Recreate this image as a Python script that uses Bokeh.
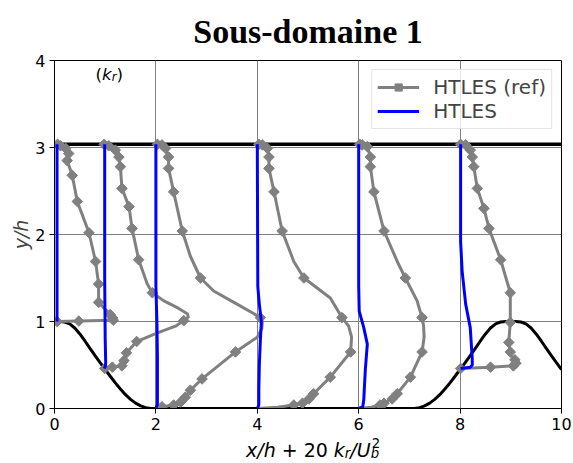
import numpy as np
from bokeh.plotting import figure
from bokeh.layouts import column
from bokeh.models import Label, Legend, LegendItem, Range1d
from bokeh.embed import file_html
from bokeh.resources import INLINE

# ---------------- data ----------------
hill_x = [0.0, 0.1, 0.2, 0.3, 0.4, 0.5, 0.6, 0.7, 0.8, 0.9, 1.0, 1.1, 1.2, 1.3, 1.4, 1.5, 1.6, 1.7, 1.8, 1.9, 1.929,
          7.071, 7.1, 7.2, 7.3, 7.4, 7.5, 7.6, 7.7, 7.8, 7.9, 8.0, 8.1, 8.2, 8.3, 8.4, 8.5, 8.6, 8.7, 8.8, 8.9, 9.0,
          9.1, 9.2, 9.3, 9.4, 9.5, 9.6, 9.7, 9.8, 9.9, 10.0]
hill_y = [1.0, 1.0, 0.994, 0.972, 0.925, 0.857, 0.776, 0.691, 0.607, 0.527, 0.448, 0.371, 0.295, 0.224, 0.159, 0.105, 0.062, 0.030, 0.010, 0.0005, 0.0,
          0.0, 0.0005, 0.010, 0.030, 0.062, 0.105, 0.159, 0.224, 0.295, 0.371, 0.448, 0.527, 0.607, 0.691, 0.776, 0.857, 0.925, 0.972, 0.994, 1.0, 1.0,
          1.0, 0.994, 0.972, 0.925, 0.857, 0.776, 0.691, 0.607, 0.527, 0.448]
top_x = [0.0, 10.0]
top_y = [3.036, 3.036]

x_ticks = [0, 2, 4, 6, 8, 10]
y_ticks = [0, 1, 2, 3, 4]

# HTLES (ref): y/h and x/h + 20 k_r/U_b^2 ; mark = 1 where a marker is drawn
ref005_y = [1.0, 1.005, 1.015, 1.04, 1.08, 1.22, 1.43, 1.69, 2.02, 2.38, 2.68, 2.85, 2.93, 2.99, 3.02, 3.036]
ref005_v = [0.05, 0.48, 1.16, 1.15, 1.10, 0.87, 0.87, 0.81, 0.68, 0.45, 0.35, 0.25, 0.28, 0.22, 0.12, 0.06]
ref005_m = [1, 1, 1, 1, 1, 1, 1, 1, 1, 1, 1, 1, 1, 1, 1, 1]

ref1_y = [0.46, 0.475, 0.49, 0.55, 0.64, 0.77, 0.87, 0.95, 1.01, 1.05, 1.09, 1.15, 1.24, 1.33, 1.43, 1.71, 2.07, 2.32, 2.53, 2.78, 2.89, 2.97, 3.02, 3.036]
ref1_v = [0.99, 1.14, 1.33, 1.37, 1.42, 1.62, 2.03, 2.40, 2.55, 2.64, 2.62, 2.45, 2.15, 1.93, 1.83, 1.66, 1.53, 1.47, 1.33, 1.30, 1.27, 1.20, 1.07, 0.98]
ref1_m = [1, 1, 1, 1, 1, 1, 0, 0, 1, 0, 0, 0, 0, 1, 0, 1, 1, 1, 1, 1, 1, 1, 1, 1]

ref2_y = [0.0, 0.02, 0.04, 0.075, 0.13, 0.21, 0.34, 0.65, 0.82, 0.92, 1.0, 1.045, 1.1, 1.2, 1.35, 1.5, 1.75, 2.04, 2.49, 2.76, 2.89, 2.99, 3.03, 3.036]
ref2_v = [2.0, 2.12, 2.35, 2.49, 2.58, 2.68, 2.91, 3.57, 4.0, 4.09, 4.1, 4.06, 3.9, 3.6, 3.14, 2.88, 2.68, 2.52, 2.35, 2.25, 2.25, 2.19, 2.12, 2.03]
ref2_m = [0, 1, 1, 1, 1, 1, 1, 1, 0, 0, 0, 1, 0, 0, 0, 1, 0, 1, 1, 1, 1, 1, 1, 1]

ref4_y = [0.0, 0.015, 0.04, 0.06, 0.11, 0.17, 0.36, 0.65, 0.82, 0.95, 1.045, 1.27, 1.5, 1.69, 2.04, 2.49, 2.76, 2.89, 2.99, 3.03, 3.036]
ref4_v = [4.0, 4.4, 4.72, 4.89, 5.02, 5.11, 5.44, 5.84, 5.86, 5.80, 5.67, 5.44, 4.92, 4.72, 4.49, 4.33, 4.23, 4.23, 4.20, 4.10, 4.03]
ref4_m = [0, 0, 1, 1, 1, 1, 1, 1, 0, 0, 1, 0, 1, 0, 1, 1, 1, 1, 1, 1, 1]

ref6_y = [0.0, 0.015, 0.04, 0.06, 0.11, 0.17, 0.36, 0.65, 0.82, 0.95, 1.045, 1.24, 1.5, 1.69, 2.04, 2.49, 2.78, 2.89, 3.01, 3.03, 3.036]
ref6_v = [6.0, 6.25, 6.42, 6.50, 6.66, 6.76, 7.02, 7.25, 7.29, 7.28, 7.25, 7.15, 6.92, 6.76, 6.50, 6.30, 6.23, 6.23, 6.17, 6.07, 6.02]
ref6_m = [0, 0, 1, 1, 1, 1, 1, 1, 0, 0, 1, 0, 1, 0, 1, 1, 1, 1, 1, 1, 1]

ref8_y = [0.46, 0.475, 0.49, 0.52, 0.56, 0.61, 0.65, 0.76, 0.99, 1.33, 1.71, 2.07, 2.30, 2.53, 2.78, 2.89, 2.97, 3.03, 3.036]
ref8_v = [8.01, 8.60, 9.05, 9.10, 9.08, 9.0, 8.99, 8.96, 8.99, 8.99, 8.80, 8.57, 8.47, 8.34, 8.27, 8.24, 8.20, 8.11, 8.01]
ref8_m = [1, 1, 1, 1, 1, 0, 1, 1, 1, 1, 1, 1, 1, 1, 1, 1, 1, 1, 1]

# HTLES
les005_y = [1.0, 2.0, 3.036]
les005_v = [0.05, 0.05, 0.05]
les1_y = [0.46, 0.48, 0.52, 0.8, 1.5, 3.036]
les1_v = [0.98, 1.0, 1.01, 1.0, 0.99, 0.99]
les2_y = [0.0, 0.05, 0.6, 1.0, 1.4, 3.036]
les2_v = [2.0, 2.03, 2.03, 2.02, 2.0, 2.0]
les4_y = [0.0, 0.04, 0.2, 0.5, 0.78, 1.0, 1.2, 1.4, 3.036]
les4_v = [4.0, 4.03, 4.03, 4.04, 4.06, 4.08, 4.04, 4.01, 4.0]
les6_y = [0.0, 0.02, 0.1, 0.44, 0.74, 0.93, 1.12, 1.4, 3.036]
les6_v = [6.0, 6.08, 6.1, 6.13, 6.17, 6.1, 6.01, 6.0, 6.0]
les8_y = [0.46, 0.475, 0.5, 0.57, 0.93, 1.2, 1.58, 1.92, 3.036]
les8_v = [8.01, 8.2, 8.24, 8.24, 8.2, 8.11, 8.04, 8.01, 8.01]

refs = [(ref005_y, ref005_v, ref005_m), (ref1_y, ref1_v, ref1_m), (ref2_y, ref2_v, ref2_m),
        (ref4_y, ref4_v, ref4_m), (ref6_y, ref6_v, ref6_m), (ref8_y, ref8_v, ref8_m)]
less = [(les005_y, les005_v), (les1_y, les1_v), (les2_y, les2_v),
        (les4_y, les4_v), (les6_y, les6_v), (les8_y, les8_v)]

GRAY = "#808080"
SANS = "DejaVu Sans"

# ---------------- main figure ----------------
p = figure(width=573, height=434, x_range=Range1d(0, 10), y_range=Range1d(0, 4),
           output_backend="svg", toolbar_location=None,
           min_border_left=54, min_border_right=12, min_border_top=58, min_border_bottom=26)

p.title.text = "Sous-domaine 1"
p.title.align = "center"
p.title.text_font = "Liberation Serif"
p.title.text_font_style = "bold"
p.title.text_font_size = "34px"
p.title.text_color = "black"
p.title.standoff = 21

p.outline_line_color = "black"
p.outline_line_width = 1
p.outline_line_alpha = 1

for ax in (p.xaxis, p.yaxis):
    ax.axis_line_color = "black"
    ax.major_tick_line_color = "black"
    ax.minor_tick_line_color = None
    ax.major_tick_out = 5
    ax.major_tick_in = 0
    ax.major_label_text_font = SANS
    ax.major_label_text_font_size = "16px"
    ax.major_label_text_color = "black"
    ax.major_label_standoff = 4
p.xaxis.ticker = x_ticks
p.yaxis.ticker = y_ticks
p.xgrid.ticker = x_ticks
p.ygrid.ticker = y_ticks
p.grid.grid_line_color = GRAY
p.grid.grid_line_width = 1
p.grid.grid_line_alpha = 1

p.yaxis.axis_label = "y/h"
p.yaxis.axis_label_text_font = SANS
p.yaxis.axis_label_text_font_style = "italic"
p.yaxis.axis_label_text_font_size = "19px"
p.yaxis.axis_label_standoff = 0

# geometry
p.line(hill_x, hill_y, line_color="black", line_width=3)
p.line(top_x, top_y, line_color="black", line_width=3.5)

ref_line0 = ref_sc0 = les0 = None
for ys, vs, ms in refs:
    rl = p.line(vs, ys, line_color=GRAY, line_width=3, line_join="round")
    mx = [v for v, m in zip(vs, ms) if m]
    my = [y for y, m in zip(ys, ms) if m]
    rs = p.scatter(mx, my, marker="square", angle=np.pi / 4, size=7.5,
                   fill_color=GRAY, line_color=GRAY)
    if ref_line0 is None:
        ref_line0, ref_sc0 = rl, rs

for ys, vs in less:
    bl = p.line(vs, ys, line_color="blue", line_width=3, line_join="round")
    if les0 is None:
        les0 = bl

legend = Legend(items=[LegendItem(label="HTLES (ref)", renderers=[ref_line0, ref_sc0]),
                       LegendItem(label="HTLES", renderers=[les0])],
                location="top_right")
legend.label_text_font = SANS
legend.label_text_font_size = "20px"
legend.border_line_color = "#cccccc"
legend.border_line_width = 1
legend.background_fill_alpha = 0.8
legend.margin = 9
legend.padding = 5
legend.spacing = 0
legend.glyph_width = 42
legend.glyph_height = 18
legend.label_height = 18
legend.label_standoff = 14
p.add_layout(legend)


def lab(fig, x, y, text, xo, yo, size, style="normal"):
    fig.add_layout(Label(x=x, y=y, text=text, x_offset=xo, y_offset=yo,
                         text_font=SANS, text_font_size=size, text_font_style=style,
                         text_baseline="alphabetic", text_align="left", text_color="black"))


# (k_r) annotation
kl_x, kl_y = 0.809, 3.845
lab(p, kl_x, kl_y, "(", 0, 0, "16.7px")
lab(p, kl_x, kl_y, "k", 6.5, 0, "16.7px", "italic")
lab(p, kl_x, kl_y, "r", 16.2, -3.5, "11.7px", "italic")
lab(p, kl_x, kl_y, ")", 21.0, 0, "16.7px")

# ---------------- x-axis label strip ----------------
q = figure(width=573, height=29, x_range=Range1d(0, 573), y_range=Range1d(0, 29),
           output_backend="svg", toolbar_location=None,
           x_axis_type=None, y_axis_type=None,
           min_border_left=0, min_border_right=0, min_border_top=0, min_border_bottom=0)
q.outline_line_color = None
q.grid.visible = False

xl_x, xl_y = 216.5, 14
lab(q, xl_x, xl_y, "x/h", 0, 0, "19px", "italic")
lab(q, xl_x, xl_y, "+", 35.7, 0, "19px")
lab(q, xl_x, xl_y, "20", 57.6, 0, "19px")
lab(q, xl_x, xl_y, "k", 87.8, 0, "19px", "italic")
lab(q, xl_x, xl_y, "r", 98.8, -4, "13.3px", "italic")
lab(q, xl_x, xl_y, "/U", 104.3, 0, "19px", "italic")
lab(q, xl_x, xl_y, "b", 124.6, -4, "13.3px", "italic")
lab(q, xl_x, xl_y, "2", 125.6, 7, "13.3px")

layout = column(p, q, spacing=0)
open("out.html", "w").write(file_html(layout, INLINE))
